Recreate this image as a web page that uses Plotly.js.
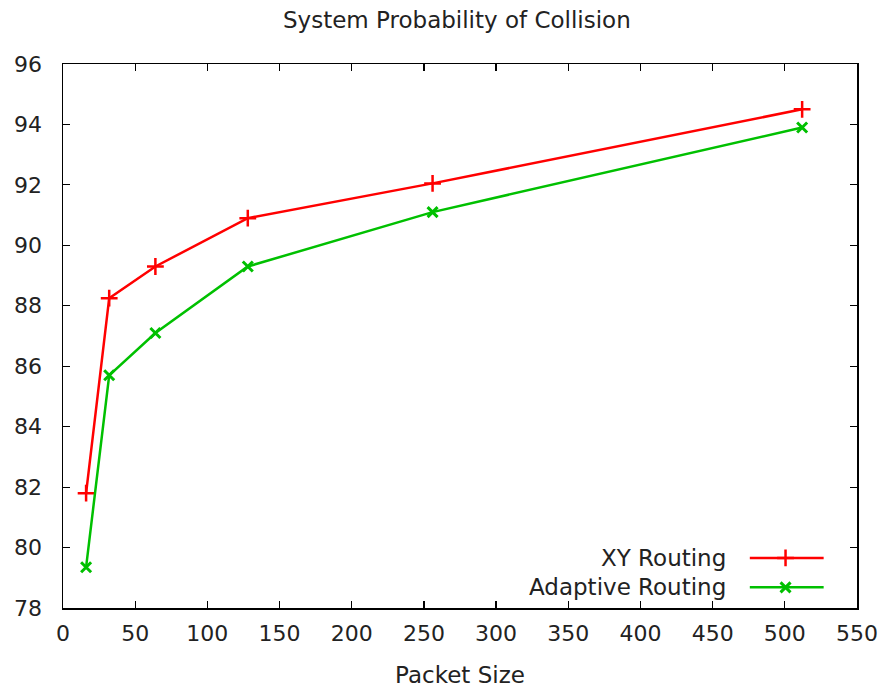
<!DOCTYPE html>
<html><head><meta charset="utf-8">
<script src="https://cdn.plot.ly/plotly-3.0.1.min.js"></script>
<style>body{margin:0;background:#fff}</style>
</head><body><div id="chart" style="width:882px;height:692px"></div>
<script>
const packetSize = [16, 32, 64, 128, 256, 512];
const xyRouting = [81.8, 88.25, 89.3, 90.9, 92.05, 94.5];
const adaptiveRouting = [79.35, 85.7, 87.1, 89.3, 91.1, 93.9];
const seriesNames = ['XY Routing', 'Adaptive Routing'];
const xTicks = [0, 50, 100, 150, 200, 250, 300, 350, 400, 450, 500, 550];
const yTicks = [78, 80, 82, 84, 86, 88, 90, 92, 94, 96];

const RED = '#ff0000', GREEN = '#00c000';
const FONT = 'DejaVu Sans, Verdana, sans-serif';

const plusMarker = {symbol: 'cross-thin-open', size: 12, color: RED, line: {color: RED, width: 2.5}};
const xMarker = {symbol: 'x-thin-open', size: 10, color: GREEN, line: {color: GREEN, width: 3}};

const traces = [
  {x: packetSize, y: xyRouting, mode: 'lines+markers', name: seriesNames[0],
   line: {color: RED, width: 2.5}, marker: plusMarker, showlegend: false},
  {x: packetSize, y: adaptiveRouting, mode: 'lines+markers', name: seriesNames[1],
   line: {color: GREEN, width: 2.5}, marker: xMarker, showlegend: false},
  // legend key samples (on overlay axes spanning the plot area)
  {x: [0.865, 0.958], y: [0.092, 0.092], xaxis: 'x2', yaxis: 'y2', mode: 'lines',
   line: {color: RED, width: 2.5}, showlegend: false, hoverinfo: 'skip'},
  {x: [0.910], y: [0.092], xaxis: 'x2', yaxis: 'y2', mode: 'markers',
   marker: plusMarker, showlegend: false, hoverinfo: 'skip'},
  {x: [0.865, 0.958], y: [0.038, 0.038], xaxis: 'x2', yaxis: 'y2', mode: 'lines',
   line: {color: GREEN, width: 2.5}, showlegend: false, hoverinfo: 'skip'},
  {x: [0.910], y: [0.038], xaxis: 'x2', yaxis: 'y2', mode: 'markers',
   marker: xMarker, showlegend: false, hoverinfo: 'skip'}
];

const axisCommon = {
  showgrid: false, zeroline: false, showline: true, mirror: 'ticks',
  linecolor: '#000', linewidth: 1.5, ticks: 'inside', ticklen: 7, tickwidth: 1.2,
  tickcolor: '#000', tickfont: {family: FONT, size: 22, color: '#222'}
};

const layout = {
  width: 882, height: 692,
  margin: {l: 63, r: 25, t: 64, b: 84},
  paper_bgcolor: '#fff', plot_bgcolor: '#fff',
  font: {family: FONT, color: '#222'},
  title: {text: 'System Probability of Collision', x: 0.518, xanchor: 'center', y: 0.971, yanchor: 'middle',
          font: {family: FONT, size: 23, color: '#222'}},
  xaxis: Object.assign({}, axisCommon, {range: [0, 550], tickvals: xTicks, ticktext: xTicks.map(String),
    ticklabelstandoff: 5,
    title: {text: 'Packet Size', font: {family: FONT, size: 23, color: '#222'}, standoff: 22}}),
  yaxis: Object.assign({}, axisCommon, {range: [78, 96], tickvals: yTicks, ticktext: yTicks.map(String),
    ticklabelstandoff: 15}),
  xaxis2: {overlaying: 'x', range: [0, 1], visible: false, fixedrange: true},
  yaxis2: {overlaying: 'y', range: [0, 1], visible: false, fixedrange: true},
  annotations: [
    {xref: 'x2', yref: 'y2', x: 0.838, y: 0.092, xanchor: 'right', yanchor: 'middle', showarrow: false,
     text: seriesNames[0], font: {family: FONT, size: 23, color: '#222'}},
    {xref: 'x2', yref: 'y2', x: 0.838, y: 0.038, xanchor: 'right', yanchor: 'middle', showarrow: false,
     text: seriesNames[1], font: {family: FONT, size: 23, color: '#222'}}
  ]
};

Plotly.newPlot('chart', traces, layout, {displayModeBar: false, staticPlot: true});
</script>
</body></html>
